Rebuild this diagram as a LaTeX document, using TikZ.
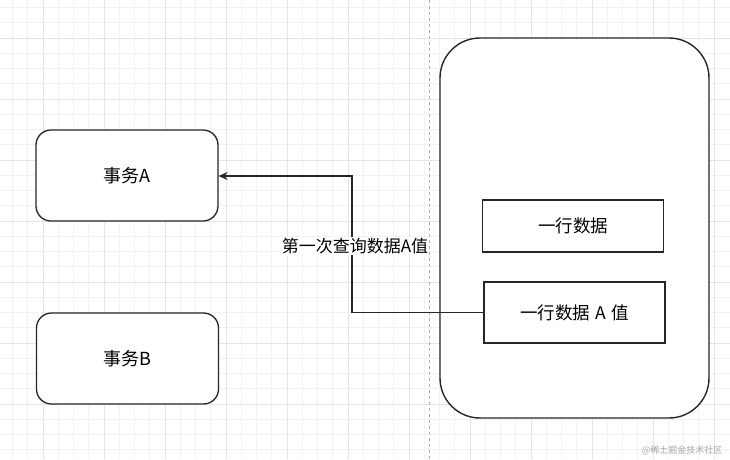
\documentclass[tikz,border=0pt]{standalone}
\usepackage{fontspec}
\setmainfont{Noto Sans CJK SC}
\usetikzlibrary{arrows.meta}
\begin{document}
\begin{tikzpicture}[x=1pt,y=-1pt,
  box/.style={draw=black!85,line width=1.3pt,fill=white,rounded corners=15pt,minimum width=182pt,minimum height=91pt,font=\fontsize{18}{20}\selectfont},
  rowbox/.style={draw=black!85,line width=1.3pt,fill=white,minimum width=181pt,font=\fontsize{17.5}{20}\selectfont},
  conn/.style={draw=black!85,line width=1.2pt,-{Stealth[length=9pt,width=8pt]}}]
\useasboundingbox (0,0) rectangle (730,459);
\fill[white] (0,0) rectangle (730,459);
% grid
\foreach \i in {0,...,48} {
  \draw[black!5,line width=0.6pt] ({-18+15.25*\i},0) -- ({-18+15.25*\i},459);
}
\foreach \i in {0,...,31} {
  \draw[black!5,line width=0.6pt] (0,{-23+15.25*\i}) -- (730,{-23+15.25*\i});
}
\foreach \i in {0,...,12} {
  \draw[black!10,line width=0.7pt] ({-18+61*\i},0) -- ({-18+61*\i},459);
}
\foreach \i in {0,...,8} {
  \draw[black!10,line width=0.7pt] (0,{-23+61*\i}) -- (730,{-23+61*\i});
}
\draw[black!30,dashed,line width=0.6pt,dash pattern=on 3pt off 3pt] (429,0) -- (429,459);
% shapes
\draw[draw=black!85,line width=1.4pt,fill=white,rounded corners=40pt] (440,38) rectangle (709,418);
\node[box] (ta) at (127,175.5) {事务A};
\node[box] (tb) at (127.5,358.5) {事务B};
\node[rowbox,minimum height=52pt] (r1) at (573,226) {一行数据};
\node[rowbox,minimum height=61pt] (r2) at (574.5,312.5) {一行数据\hspace{0.3em}A\hspace{0.3em}值};
\coordinate (c1) at (352,312.5);
\coordinate (c2) at (352,176);
\draw[conn] (r2.west) -- (c1) -- (c2) -- (ta.east |- c2);
\node[fill=white,inner sep=1pt,font=\fontsize{17}{19}\selectfont] (lab) at (355,246) {第一次查询数据A值};
\node[text=black!35,font=\fontsize{9}{11}\selectfont,anchor=east] (wm) at (726,450) {@稀土掘金技术社区};
\end{tikzpicture}
\end{document}
